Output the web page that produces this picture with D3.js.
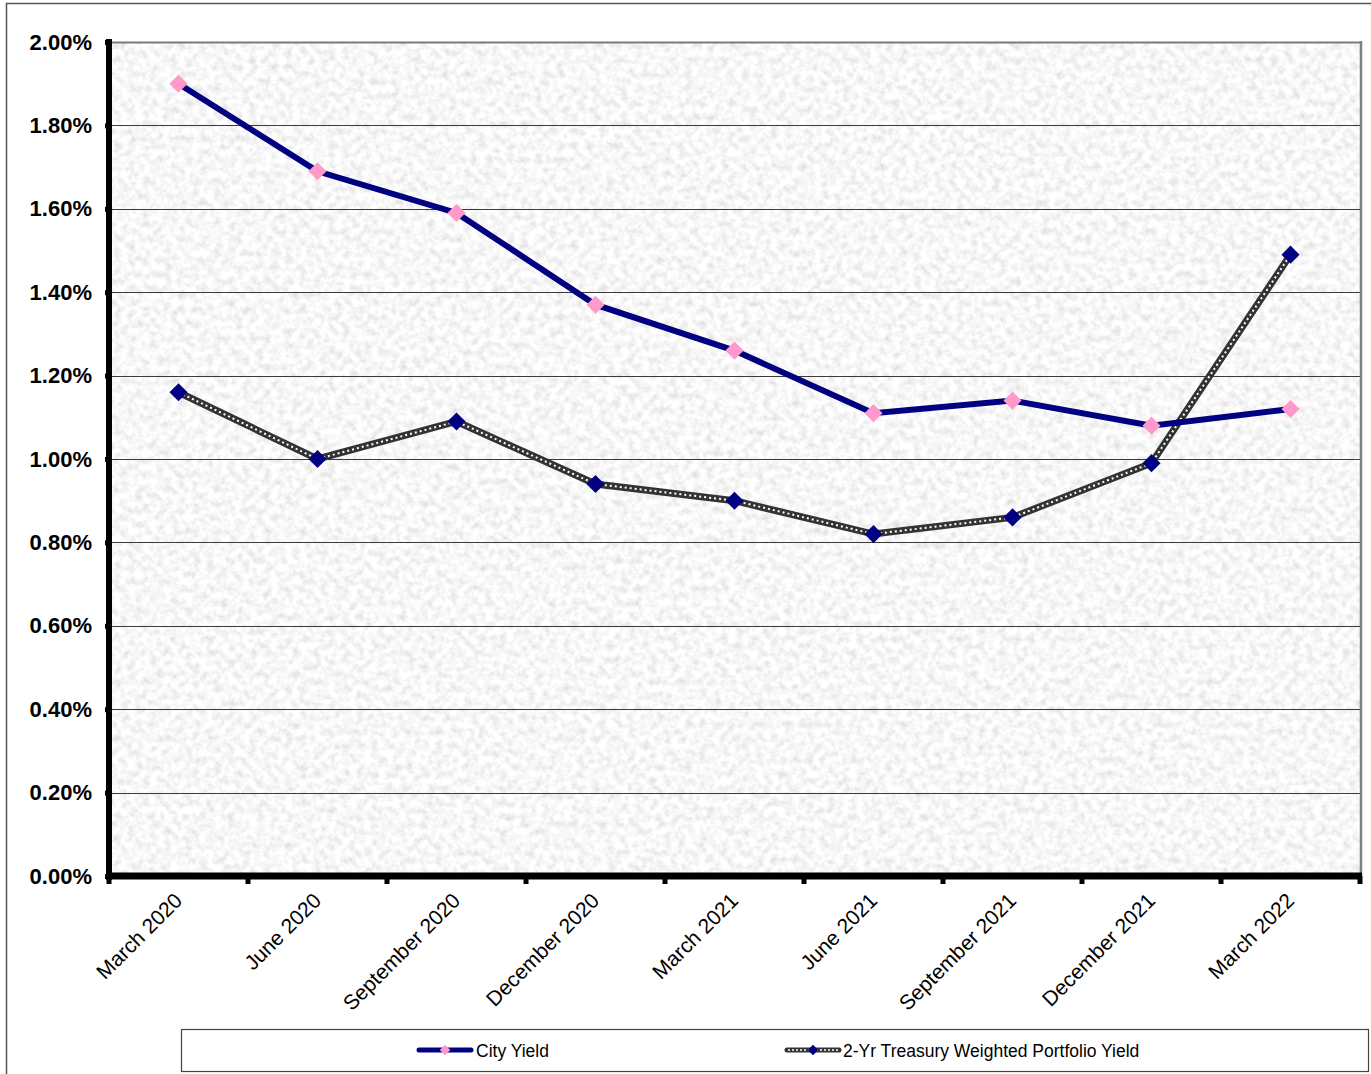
<!DOCTYPE html>
<html>
<head>
<meta charset="utf-8">
<script src="https://cdn.jsdelivr.net/npm/d3@7"></script>
<style>
  html, body { margin: 0; padding: 0; background: #ffffff; }
  svg { display: block; }
</style>
</head>
<body>
<svg id="chart" width="1371" height="1074"></svg>
<script>
// Quarterly yield comparison
const categories = ["March 2020", "June 2020", "September 2020", "December 2020",
  "March 2021", "June 2021", "September 2021", "December 2021", "March 2022"];
const cityYield = [1.90, 1.69, 1.59, 1.37, 1.26, 1.11, 1.14, 1.08, 1.12];
const treasuryYield = [1.16, 1.00, 1.09, 0.94, 0.90, 0.82, 0.86, 0.99, 1.49];
const yTicks = [0, 0.2, 0.4, 0.6, 0.8, 1.0, 1.2, 1.4, 1.6, 1.8, 2.0];
const seriesNames = ["City Yield", "2-Yr Treasury Weighted Portfolio Yield"];

const svg = d3.select("#chart");
const W = 1371, H = 1074;
const plot = { left: 109, right: 1360, top: 42, bottom: 876 };
const FONT = "Liberation Sans, Arial, sans-serif";

// Granite-like background texture for the plot area
const defs = svg.append("defs");
const f = defs.append("filter").attr("id", "granite")
  .attr("x", 0).attr("y", 0).attr("width", "100%").attr("height", "100%");
f.append("feTurbulence").attr("type", "fractalNoise")
  .attr("baseFrequency", "0.14").attr("numOctaves", 3).attr("seed", 7).attr("result", "noise");
f.append("feColorMatrix").attr("in", "noise").attr("type", "matrix")
  .attr("values", "0.75 0 0 0 0.52  0.75 0 0 0 0.52  0.75 0 0 0 0.52  0 0 0 0 1")
  .attr("result", "gray");
f.append("feComponentTransfer").attr("in", "gray")
  .call(g => {
    ["feFuncR", "feFuncG", "feFuncB"].forEach(fn =>
      g.append(fn).attr("type", "gamma").attr("amplitude", 1).attr("exponent", 0.6).attr("offset", 0));
  });

// Outer chart frame
svg.append("rect").attr("x", 6.5).attr("y", 3.5).attr("width", W - 4).attr("height", H + 10)
  .attr("fill", "none").attr("stroke", "#555").attr("stroke-width", 1.5);

const x = d3.scaleBand().domain(categories).range([plot.left, plot.right]).padding(0);
const y = d3.scaleLinear().domain([0, 2.0]).range([plot.bottom, plot.top]);
const cx = d => x(d) + x.bandwidth() / 2;

// Plot area
svg.append("rect").attr("x", plot.left).attr("y", plot.top)
  .attr("width", plot.right - plot.left).attr("height", plot.bottom - plot.top)
  .attr("fill", "#ececec").attr("filter", "url(#granite)");

// Gridlines
svg.append("g").selectAll("line").data(yTicks.filter(t => t > 0)).join("line")
  .attr("x1", plot.left).attr("x2", plot.right)
  .attr("y1", d => Math.round(y(d)) + 0.5).attr("y2", d => Math.round(y(d)) + 0.5)
  .attr("stroke", d => d === 2.0 ? "#7a7a7a" : "#3a3a3a")
  .attr("stroke-width", d => d === 2.0 ? 2 : 1);

// Right border of plot area
svg.append("line").attr("x1", plot.right + 1).attr("x2", plot.right + 1)
  .attr("y1", plot.top - 1).attr("y2", plot.bottom)
  .attr("stroke", "#808080").attr("stroke-width", 2.5);

// Y axis
const yAxis = d3.axisLeft(y).tickValues(yTicks).tickSize(4).tickPadding(13)
  .tickFormat(d => d3.format(".2%")(d / 100));
const yg = svg.append("g").attr("transform", `translate(${plot.left},0)`).call(yAxis);
yg.select(".domain").remove();
yg.selectAll(".tick line").attr("stroke", "#000").attr("stroke-width", 5);
yg.selectAll(".tick text")
  .attr("font-family", FONT)
  .attr("font-size", 22).attr("font-weight", "bold").attr("fill", "#000");
svg.append("line").attr("x1", plot.left).attr("x2", plot.left)
  .attr("y1", plot.top - 3).attr("y2", plot.bottom + 4)
  .attr("stroke", "#000").attr("stroke-width", 6);

// X axis
const xTickPos = d3.range(categories.length + 1).map(i => plot.left + i * x.bandwidth());
svg.append("g").selectAll("line").data(xTickPos).join("line")
  .attr("x1", d => d).attr("x2", d => d)
  .attr("y1", plot.bottom).attr("y2", plot.bottom + 8)
  .attr("stroke", "#000").attr("stroke-width", 5);
svg.append("line").attr("x1", plot.left - 3).attr("x2", plot.right + 2)
  .attr("y1", plot.bottom).attr("y2", plot.bottom)
  .attr("stroke", "#000").attr("stroke-width", 7);
svg.append("g").selectAll("text").data(categories).join("text")
  .attr("transform", d => `translate(${cx(d) + 5},${plot.bottom + 26}) rotate(-45)`)
  .attr("text-anchor", "end")
  .attr("font-family", FONT)
  .attr("font-size", 21).attr("fill", "#000")
  .text(d => d);

// Series
const line = d3.line().x((d, i) => cx(categories[i])).y(d => y(d));
const diamond = d3.symbol().type(d3.symbolDiamond2);

const gT = svg.append("g");
gT.append("path").attr("d", line(treasuryYield)).attr("fill", "none")
  .attr("stroke", "#333").attr("stroke-width", 7).attr("stroke-linejoin", "miter");
gT.append("path").attr("d", line(treasuryYield)).attr("fill", "none")
  .attr("stroke", "#fff").attr("stroke-width", 2).attr("stroke-dasharray", "2,3");
gT.selectAll("path.m").data(treasuryYield).join("path").attr("class", "m")
  .attr("d", diamond.size(210)())
  .attr("transform", (d, i) => `translate(${cx(categories[i])},${y(d)})`)
  .attr("fill", "#000080");

const gC = svg.append("g");
gC.append("path").attr("d", line(cityYield)).attr("fill", "none")
  .attr("stroke", "#000080").attr("stroke-width", 6).attr("stroke-linejoin", "miter");
gC.selectAll("path.m").data(cityYield).join("path").attr("class", "m")
  .attr("d", diamond.size(210)())
  .attr("transform", (d, i) => `translate(${cx(categories[i])},${y(d)})`)
  .attr("fill", "#ff99cc");

// Legend
const leg = svg.append("g");
leg.append("rect").attr("x", 181.5).attr("y", 1029.5).attr("width", 1187).attr("height", 42)
  .attr("fill", "#fff").attr("stroke", "#444").attr("stroke-width", 1.2);
const ly = 1050;
// City Yield key
leg.append("line").attr("x1", 419).attr("x2", 471).attr("y1", ly).attr("y2", ly)
  .attr("stroke", "#000080").attr("stroke-width", 5).attr("stroke-linecap", "round");
leg.append("path").attr("d", diamond.size(70)()).attr("transform", `translate(445,${ly})`)
  .attr("fill", "#ff99cc");
leg.append("text").attr("x", 476).attr("y", ly + 6.5)
  .attr("font-family", FONT).attr("font-size", 17.5)
  .text(seriesNames[0]);
// Treasury key
leg.append("line").attr("x1", 787).attr("x2", 839).attr("y1", ly).attr("y2", ly)
  .attr("stroke", "#333").attr("stroke-width", 5).attr("stroke-linecap", "round");
leg.append("line").attr("x1", 788).attr("x2", 838).attr("y1", ly).attr("y2", ly)
  .attr("stroke", "#fff").attr("stroke-width", 1.5).attr("stroke-dasharray", "2,2");
leg.append("path").attr("d", diamond.size(70)()).attr("transform", `translate(813,${ly})`)
  .attr("fill", "#000080");
leg.append("text").attr("x", 843).attr("y", ly + 6.5)
  .attr("font-family", FONT).attr("font-size", 17.5)
  .text(seriesNames[1]);
</script>
</body>
</html>
